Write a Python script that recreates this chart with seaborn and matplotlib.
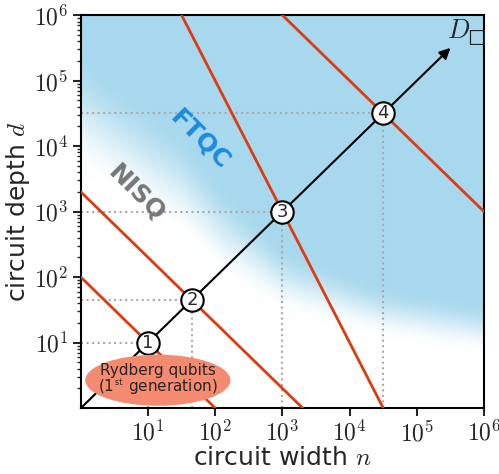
import numpy as np
import pandas as pd
import matplotlib.pyplot as plt
import seaborn as sns
from matplotlib.patches import Ellipse

# red cost lines: d = C / n**k
line_C = [1e2, 2e3, 1e9, 1e9]
line_k = [1, 1, 2, 1]

# numbered points on the diagonal D
point_n = [10, 45, 1000, 31623]
point_labels = ['1', '2', '3', '4']

# rough edge of the NISQ -> FTQC shading (log10 n, log10 d) and its blur width
edge_logn = [0.0, 1.5, 2.1, 3.0, 4.5, 6.0]
edge_logd = [4.5, 3.4, 2.7, 1.95, 1.45, 1.2]
edge_w = [1.8, 1.6, 1.4, 1.0, 0.8, 0.8]

sns.set_style('ticks')
plt.rcParams['mathtext.fontset'] = 'cm'
plt.rcParams['font.family'] = ['DejaVu Sans']

fig = plt.figure(figsize=(4.99, 4.74), dpi=100)
ax = fig.add_axes([0.162, 0.139, 0.808, 0.829])
ax.set_xscale('log')
ax.set_yscale('log')
ax.set_xlim(1, 1e6)
ax.set_ylim(1, 1e6)

# background shading
gx = np.linspace(0, 6, 300)
gy = np.linspace(0, 6, 300)
LX, LY = np.meshgrid(gx, gy)
edge = np.interp(LX, edge_logn, edge_logd)
width = np.interp(LX, edge_logn, edge_w)
t = np.clip((LY - edge) / width + 0.5, 0, 1)
t = t * t * (3 - 2 * t)
blue = np.array([0.66, 0.85, 0.93])
img = np.ones((300, 300, 3)) * (1 - t[..., None]) + blue * t[..., None]
ax.imshow(img, extent=[0, 1, 0, 1], transform=ax.transAxes, origin='lower',
          aspect='auto', zorder=0, interpolation='bilinear')

# red lines
n = np.logspace(0, 6, 200)
rows = []
for i, (C, k) in enumerate(zip(line_C, line_k)):
    for v in n:
        rows.append({'n': v, 'd': C / v**k, 'line': i})
df = pd.DataFrame(rows)
sns.lineplot(data=df, x='n', y='d', units='line', estimator=None,
             color='#e03a10', lw=2, ax=ax, zorder=3, legend=False)

# dotted guides
for pn in point_n:
    ax.plot([1, pn], [pn, pn], ls=':', color='#aaaaaa', lw=1.5, zorder=2)
    ax.plot([pn, pn], [1, pn], ls=':', color='#aaaaaa', lw=1.5, zorder=2)

# diagonal arrow
ax.annotate('', xy=(10**5.5, 10**5.5), xytext=(1, 1),
            arrowprops=dict(arrowstyle='-|>', color='k', lw=1.5,
                            mutation_scale=16, shrinkA=0, shrinkB=0),
            zorder=4)
ax.text(10**5.74, 10**5.74, '$D_{□}$', fontsize=19, ha='center',
        va='center', zorder=5)

# numbered circles
sns.scatterplot(x=point_n, y=point_n, s=260, color='white', edgecolor='black',
                linewidth=1.5, ax=ax, zorder=6, legend=False)
for pn, lab in zip(point_n, point_labels):
    ax.text(pn, pn, lab, fontsize=13, ha='center', va='center', zorder=7)

# region labels
ax.text(10**1.77, 10**4.1, 'FTQC', fontsize=18, fontweight='bold',
        color='#1a8ce0', rotation=-45, ha='center', va='center', zorder=5)
ax.text(10**0.83, 10**3.28, 'NISQ', fontsize=18, fontweight='bold',
        color='#777777', rotation=-45, ha='center', va='center', zorder=5)

# Rydberg ellipse
ell = Ellipse((0.191, 0.071), 0.36, 0.13, transform=ax.transAxes,
              facecolor='#f48b70', edgecolor='none', zorder=8)
ax.add_patch(ell)
ax.text(0.191, 0.071, 'Rydberg qubits\n(1$^{\\mathsf{st}}$ generation)',
        transform=ax.transAxes, ha='center', va='center', fontsize=11,
        linespacing=0.95, zorder=9)

ticks = [10**i for i in range(1, 7)]
ax.set_xticks(ticks)
ax.set_yticks(ticks)
ax.set_xticklabels([r'$10^{%d}$' % i for i in range(1, 7)])
ax.set_yticklabels([r'$10^{%d}$' % i for i in range(1, 7)])
ax.tick_params(which='major', direction='out', length=6, width=1.5,
               labelsize=17, top=False, right=False, pad=3)
ax.tick_params(which='minor', direction='out', length=3, width=1,
               top=False, right=False)
for s in ax.spines.values():
    s.set_linewidth(1.5)
    s.set_color('black')

ax.set_xlabel('circuit width $n$', fontsize=18, labelpad=0)
ax.set_ylabel('circuit depth $d$', fontsize=18, labelpad=1)

fig.savefig('out.png', dpi=100)
